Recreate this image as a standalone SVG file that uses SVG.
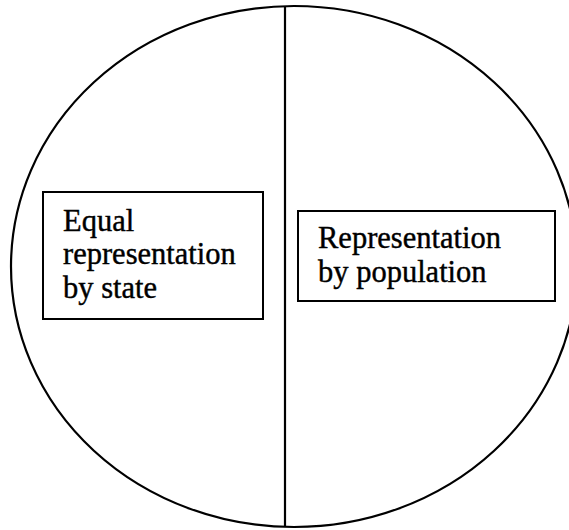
<svg xmlns="http://www.w3.org/2000/svg" width="569" height="530" viewBox="0 0 569 530">
<style>
.ln{fill:none;stroke:#000;stroke-width:2.2}
.bx{fill:#fff;stroke:#000;stroke-width:2}
.t{font-family:"Liberation Serif","Times New Roman",serif;font-size:30.5px;fill:#000;stroke:#000;stroke-width:0.4}
</style>
<rect width="569" height="530" fill="#fff"/>
<g id="connectors">
<ellipse class="ln" cx="294" cy="266.5" rx="283" ry="260.5"/>
<line class="ln" x1="285" y1="7" x2="285" y2="527"/>
</g>
<g id="equal">
<rect class="bx" x="43" y="192" width="220" height="127"/>
<text class="t" x="63" y="231">Equal</text>
<text class="t" x="63" y="264">representation</text>
<text class="t" x="63" y="298">by state</text>
</g>
<g id="population">
<rect class="bx" x="298" y="211" width="257" height="90"/>
<text class="t" x="318" y="248">Representation</text>
<text class="t" x="318" y="282">by population</text>
</g>
</svg>
